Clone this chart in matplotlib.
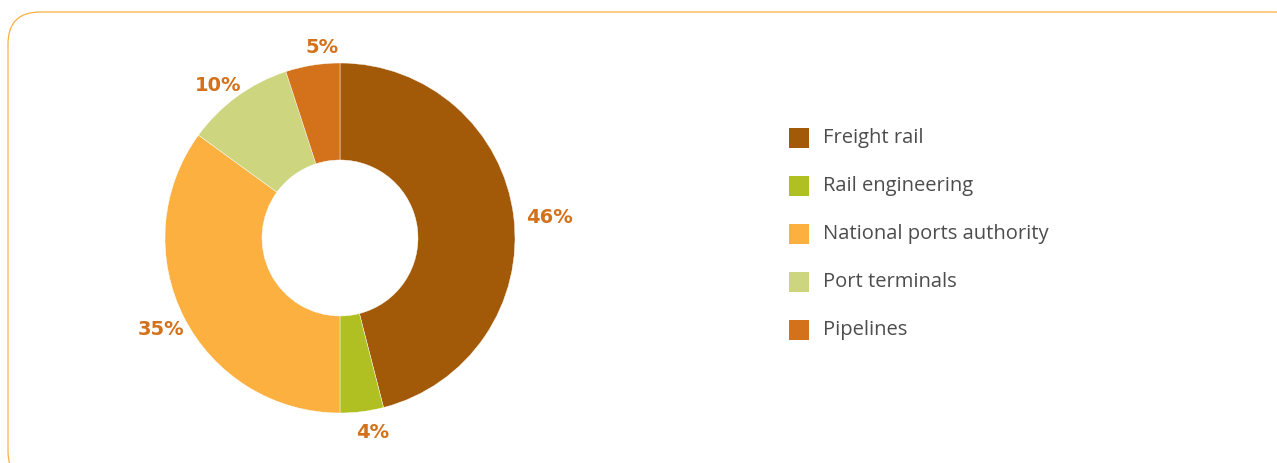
import numpy as np
import matplotlib.pyplot as plt
from matplotlib.patches import FancyBboxPatch, Rectangle

categories = ["Freight rail", "Rail engineering", "National ports authority",
              "Port terminals", "Pipelines"]
shares = [46, 4, 35, 10, 5]
colors = ["#a35a08", "#b0bf22", "#fbb040", "#cdd57e", "#d4711b"]

W, H = 1277, 463
fig = plt.figure(figsize=(W / 100, H / 100), dpi=100)
ax = fig.add_axes([0, 0, 1, 1])

# rounded frame
frame = FancyBboxPatch((8, -20), 1300, H - 12 + 20,
                       boxstyle="round,pad=0,rounding_size=32",
                       fill=False, edgecolor="#fbb040", linewidth=0.9)
ax.add_patch(frame)

cx, cy = 340, H - 238
ax.pie(shares, colors=colors, center=(cx, cy), radius=175,
       startangle=90, counterclock=False,
       wedgeprops=dict(width=97, edgecolor="white", linewidth=0.3),
       frame=True)
ax.set_xlim(0, W)
ax.set_ylim(0, H)
ax.set_aspect("equal")
ax.axis("off")

# percentage labels, placed just outside each wedge
label_r = [210, 197, 201, 195, 191]
label_shift = [-1.7, 2.2, 0.2, 2.7, -3.6]  # degrees
cum = 0
for v, r, s in zip(shares, label_r, label_shift):
    mid = np.deg2rad(90 - 3.6 * (cum + v / 2) + s)
    cum += v
    ax.text(cx + r * np.cos(mid), cy + r * np.sin(mid), f"{v}%",
            ha="center", va="center", fontsize=14, fontweight="bold",
            color="#d4711b", family="DejaVu Sans")

# legend
for i, (name, c) in enumerate(zip(categories, colors)):
    yc = H - (138 + 48 * i)
    ax.add_patch(Rectangle((789, yc - 10), 20, 20, facecolor=c, edgecolor="none"))
    ax.text(823, yc, name, ha="left", va="center", fontsize=14.5,
            color="#4d4d4d", family="Open Sans")

fig.savefig("out.png", dpi=100)
